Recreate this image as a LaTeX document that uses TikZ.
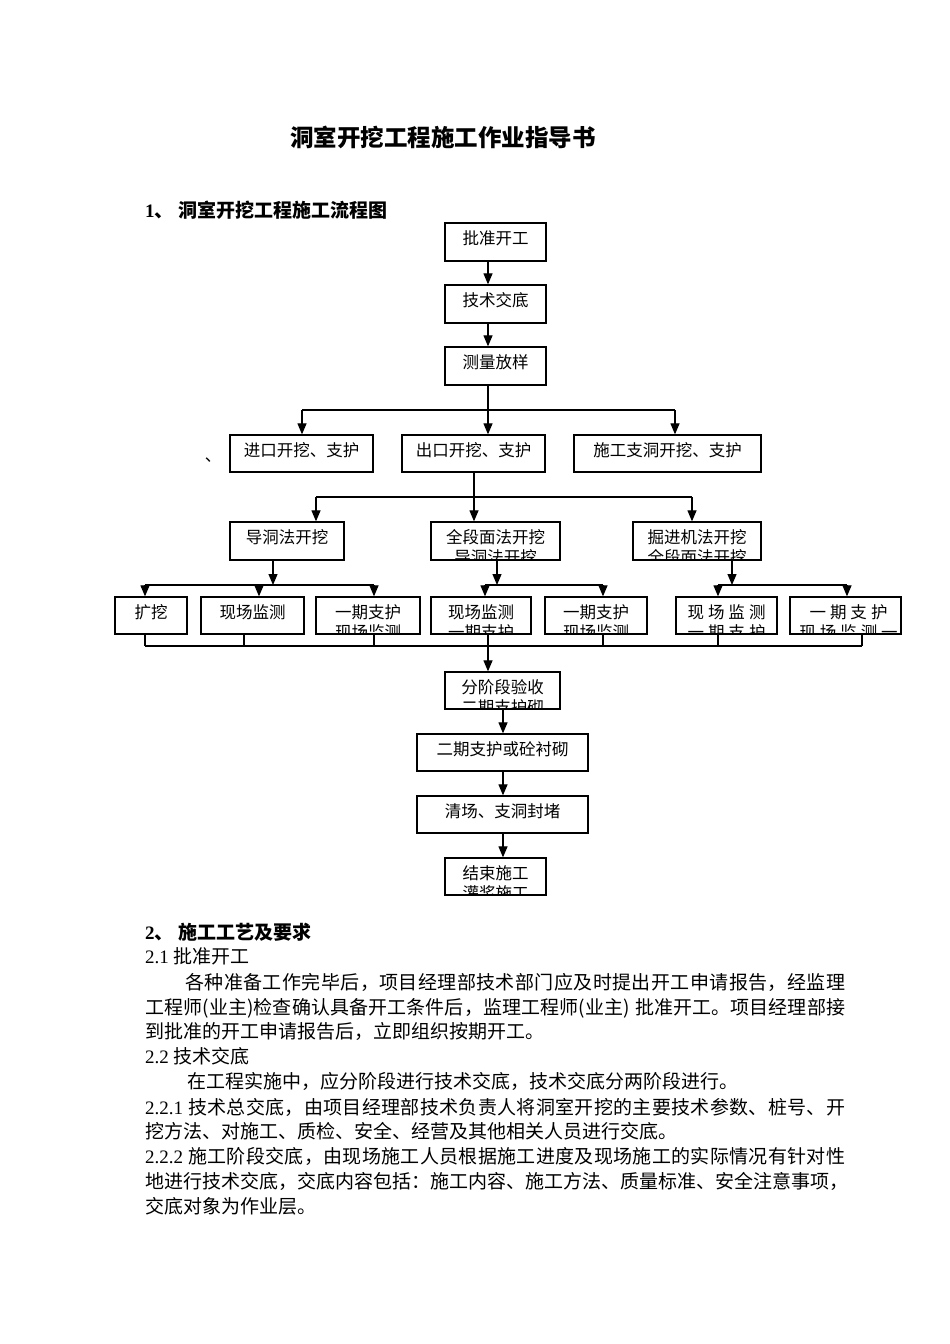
\documentclass[tikz,border=0pt]{standalone}
\usepackage{fontspec}
\setmainfont{Liberation Serif}
\newfontfamily\cjk{Noto Sans CJK SC}
\newcommand\lat[1]{{\rmfamily #1}}
\def\spread#1{\spreadB#1\relax}
\def\spreadB#1{#1\spreadA}
\def\spreadA#1{\ifx\relax#1\else\hskip 0pt plus 1pt #1\expandafter\spreadA\fi}
\usetikzlibrary{arrows.meta}
\tikzset{
  fbox/.style={draw, line width=1.3pt, minimum height=38pt, inner sep=0pt,
    font=\cjk\fontsize{16.5}{16.5}\selectfont, text height=0.88em, text depth=0.36em},
  sub/.style={font=\cjk\fontsize{16.5}{16.5}\selectfont, inner sep=0pt,
    text height=0.88em, text depth=0.12em},
  sec/.style={path picture={\node[sub] at ([yshift=-19pt]path picture bounding box.center) {#1};}},
  arr/.style={line width=1.2pt, -{Triangle[length=11pt,width=9pt]}},
  ln/.style={line width=1.2pt},
  body/.style={anchor=west, inner sep=0pt, yshift=-3pt, font=\cjk\fontsize{19}{19}\selectfont,
    text height=0.88em, text depth=0.12em},
  bodyb/.style={body, font=\cjk\bfseries\fontsize{19}{19}\selectfont},
}
\begin{document}
\begin{tikzpicture}[x=1pt,y=-1pt]
\fill[white] (0,0) rectangle (950,1344);
\useasboundingbox (0,0) rectangle (950,1344);

% titles
\node[inner sep=0pt, font=\cjk\bfseries\fontsize{23.5}{23.5}\selectfont] (title) at (443,137) {洞室开挖工程施工作业指导书};
\node[bodyb] (s1) at (145,211) {\lat{\bfseries 1}、\lat{ }洞室开挖工程施工流程图};

% flowchart boxes
\node[fbox, minimum width=101pt] (B1) at (495.5,242) {批准开工\hspace{6pt}};
\node[fbox, minimum width=101pt] (B2) at (495.5,304) {技术交底\hspace{6pt}};
\node[fbox, minimum width=101pt] (B3) at (495.5,366) {测量放样\hspace{6pt}};

\node[fbox, minimum width=143pt, minimum height=37pt] (R2a) at (301.5,453.5) {进口开挖、支护};
\node[fbox, minimum width=143pt, minimum height=37pt] (R2b) at (473.5,453.5) {出口开挖、支护};
\node[fbox, minimum width=187pt, minimum height=37pt] (R2c) at (667.5,453.5) {施工支洞开挖、支护};
\node[sub] (dot) at (213,458) {、};

\node[fbox, minimum width=114pt] (R3a) at (287,541) {导洞法开挖};
\node[fbox, minimum width=129pt, sec=导洞法开挖] (R3b) at (495.5,541) {全段面法开挖};
\node[fbox, minimum width=128pt, sec=全段面法开挖] (R3c) at (697,541) {掘进机法开挖};

\node[fbox, minimum width=72pt, minimum height=37pt] (R4a) at (151,615.5) {扩挖\hspace{15pt}};
\node[fbox, minimum width=103pt, minimum height=37pt] (R4b) at (252.5,615.5) {现场监测};
\node[fbox, minimum width=104pt, minimum height=37pt, sec=现场监测] (R4c) at (368,615.5) {一期支护};
\node[fbox, minimum width=100pt, minimum height=37pt, sec=一期支护] (R4d) at (481,615.5) {现场监测};
\node[fbox, minimum width=102pt, minimum height=37pt, sec=现场监测] (R4e) at (596,615.5) {一期支护};
\node[fbox, minimum width=101pt, minimum height=37pt, sec={一\hspace{4pt}期\hspace{4pt}支\hspace{4pt}护}] (R4f) at (726.5,615.5) {现\hspace{4pt}场\hspace{4pt}监\hspace{4pt}测};
\node[fbox, minimum width=111pt, minimum height=37pt, sec={\hspace{6pt}现\hspace{4pt}场\hspace{4pt}监\hspace{4pt}测\hspace{4pt}一}] (R4g) at (845.5,615.5) {\hspace{6pt}一\hspace{4pt}期\hspace{4pt}支\hspace{4pt}护};

\node[fbox, minimum width=115pt, minimum height=37pt, sec=二期支护砌] (R5) at (502.5,690.5) {分阶段验收};
\node[fbox, minimum width=171pt, minimum height=37pt] (R6) at (502.5,752.5) {二期支护或砼衬砌};
\node[fbox, minimum width=171pt, minimum height=37pt] (R7) at (502.5,814.5) {清场、支洞封堵};
\node[fbox, minimum width=101pt, minimum height=37pt, sec=灌浆施工] (R8) at (495.5,876.5) {结束施工};

% connectors
\coordinate (xa) at (488,0);
\draw[arr] (B1.south -| xa) -- (B2.north -| xa);
\draw[arr] (B2.south -| xa) -- (B3.north -| xa);
\draw[arr] (B3.south -| xa) -- (R2b.north -| xa);
\coordinate (t1) at (302,410);
\coordinate (t3) at (675,410);
\draw[ln] (t1) -- (t3);
\draw[arr] (t1) -- (t1 |- R2a.north);
\draw[arr] (t3) -- (t3 |- R2c.north);

\coordinate (u1) at (316,497);
\coordinate (u2) at (474,497);
\coordinate (u3) at (692,497);
\draw[ln] (R2b.south -| u2) -- (u2);
\draw[ln] (u1) -- (u3);
\draw[arr] (u1) -- (u1 |- R3a.north);
\draw[arr] (u2) -- (u2 |- R3b.north);
\draw[arr] (u3) -- (u3 |- R3c.north);

% group 1
\coordinate (v1) at (273,585);
\coordinate (a1) at (145,585);
\coordinate (a2) at (259,585);
\coordinate (a3) at (374,585);
\draw[arr] (R3a.south -| v1) -- (v1);
\draw[ln] (a1) -- (a3);
\draw[arr] (a1) -- (a1 |- R4a.north);
\draw[arr] (a2) -- (a2 |- R4b.north);
\draw[arr] (a3) -- (a3 |- R4c.north);
% group 2
\coordinate (v2) at (497,585);
\coordinate (b1) at (485,585);
\coordinate (b2) at (603,585);
\draw[arr] (R3b.south -| v2) -- (v2);
\draw[ln] (b1) -- (b2);
\draw[arr] (b1) -- (b1 |- R4d.north);
\draw[arr] (b2) -- (b2 |- R4e.north);
% group 3
\coordinate (v3) at (732,585);
\coordinate (c1) at (718,585);
\coordinate (c2) at (847,585);
\draw[arr] (R3c.south -| v3) -- (v3);
\draw[ln] (c1) -- (c2);
\draw[arr] (c1) -- (c1 |- R4f.north);
\draw[arr] (c2) -- (c2 |- R4g.north);

% collector
\coordinate (k1) at (145,646);
\coordinate (k2) at (244,646);
\coordinate (k3) at (374,646);
\coordinate (k4) at (488,646);
\coordinate (k5) at (603,646);
\coordinate (k6) at (718,646);
\coordinate (k7) at (862,646);
\draw[ln] (k1) -- (k7);
\draw[ln] (R4a.south -| k1) -- (k1);
\draw[ln] (R4b.south -| k2) -- (k2);
\draw[ln] (R4c.south -| k3) -- (k3);
\draw[ln] (R4e.south -| k5) -- (k5);
\draw[ln] (R4f.south -| k6) -- (k6);
\draw[ln] (R4g.south -| k7) -- (k7);
\draw[arr] (R4d.south -| k4) -- (R5.north -| k4);

\coordinate (xb) at (503,0);
\draw[arr] (R5.south -| xb) -- (R6.north -| xb);
\draw[arr] (R6.south -| xb) -- (R7.north -| xb);
\draw[arr] (R7.south -| xb) -- (R8.north -| xb);

% body text
\node[bodyb] (s2) at (145,933) {\lat{\bfseries 2}、\lat{ }施工工艺及要求};
\node[body] (p1) at (145,957) {\lat{2.1 }批准开工};
\node[body] (p2) at (185,983) {\hbox to 660pt{\spread{各种准备工作完毕后，项目经理部技术部门应及时提出开工申请报告，经监理}}};
\node[body] (p3) at (145,1008) {\hbox to 700pt{\spread{工程师(业主)检查确认具备开工条件后，监理工程师(业主)}\hskip 5pt plus 1pt\spread{批准开工。项目经理部接}}};
\node[body] (p4) at (145,1032) {到批准的开工申请报告后，立即组织按期开工。};
\node[body] (p5) at (145,1057) {\lat{2.2 }技术交底};
\node[body] (p6) at (187,1082) {在工程实施中，应分阶段进行技术交底，技术交底分两阶段进行。};
\node[body] (p7) at (145,1108) {\hbox to 700pt{\lat{2.2.1}\hspace{5pt}\spread{技术总交底，由项目经理部技术负责人将洞室开挖的主要技术参数、桩号、开}}};
\node[body] (p8) at (145,1132) {挖方法、对施工、质检、安全、经营及其他相关人员进行交底。};
\node[body] (p9) at (145,1157) {\hbox to 700pt{\lat{2.2.2}\hspace{5pt}\spread{施工阶段交底，由现场施工人员根据施工进度及现场施工的实际情况有针对性}}};
\node[body] (p10) at (145,1182) {地进行技术交底，交底内容包括：施工内容、施工方法、质量标准、安全注意事项，};
\node[body] (p11) at (145,1207) {交底对象为作业层。};
\end{tikzpicture}
\end{document}
